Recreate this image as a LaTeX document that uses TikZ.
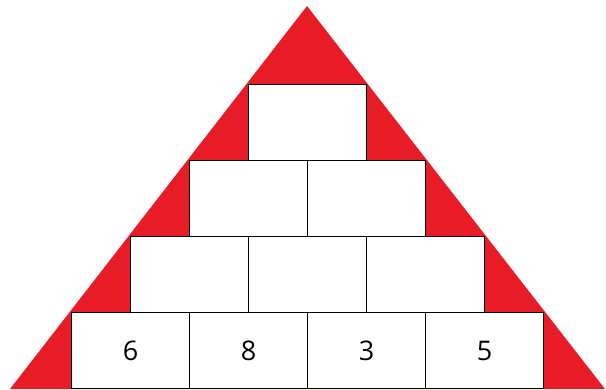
\documentclass[tikz,border=0pt]{standalone}
\usepackage{fontspec}
\setsansfont{Open Sans}
\usepackage{tikz}
\usetikzlibrary{positioning}
\definecolor{pyrred}{RGB}{232,28,38}

\begin{document}
\begin{tikzpicture}[x=1pt, y=-1pt,
  brick/.style={rectangle, draw=black, fill=white, line width=1pt,
    minimum width=118pt, minimum height=76pt, inner sep=0pt, outer sep=0pt,
    font=\sffamily\fontsize{27}{27}\selectfont}]
\useasboundingbox (0,0) rectangle (606,389);
\fill[pyrred] (307,6) -- (605,389) -- (10,389) -- cycle;
% bottom row
\node[brick] (a1) at (130.5,350.5) {6};
\node[brick, right=0pt of a1] (a2) {8};
\node[brick, right=0pt of a2] (a3) {3};
\node[brick, right=0pt of a3] (a4) {5};
% upper rows
\node[brick, anchor=south] (b1) at (a1.north east) {};
\node[brick, right=0pt of b1] (b2) {};
\node[brick, right=0pt of b2] (b3) {};
\node[brick, anchor=south] (c1) at (b1.north east) {};
\node[brick, right=0pt of c1] (c2) {};
\node[brick, anchor=south] (d1) at (c1.north east) {};
\end{tikzpicture}
\end{document}
